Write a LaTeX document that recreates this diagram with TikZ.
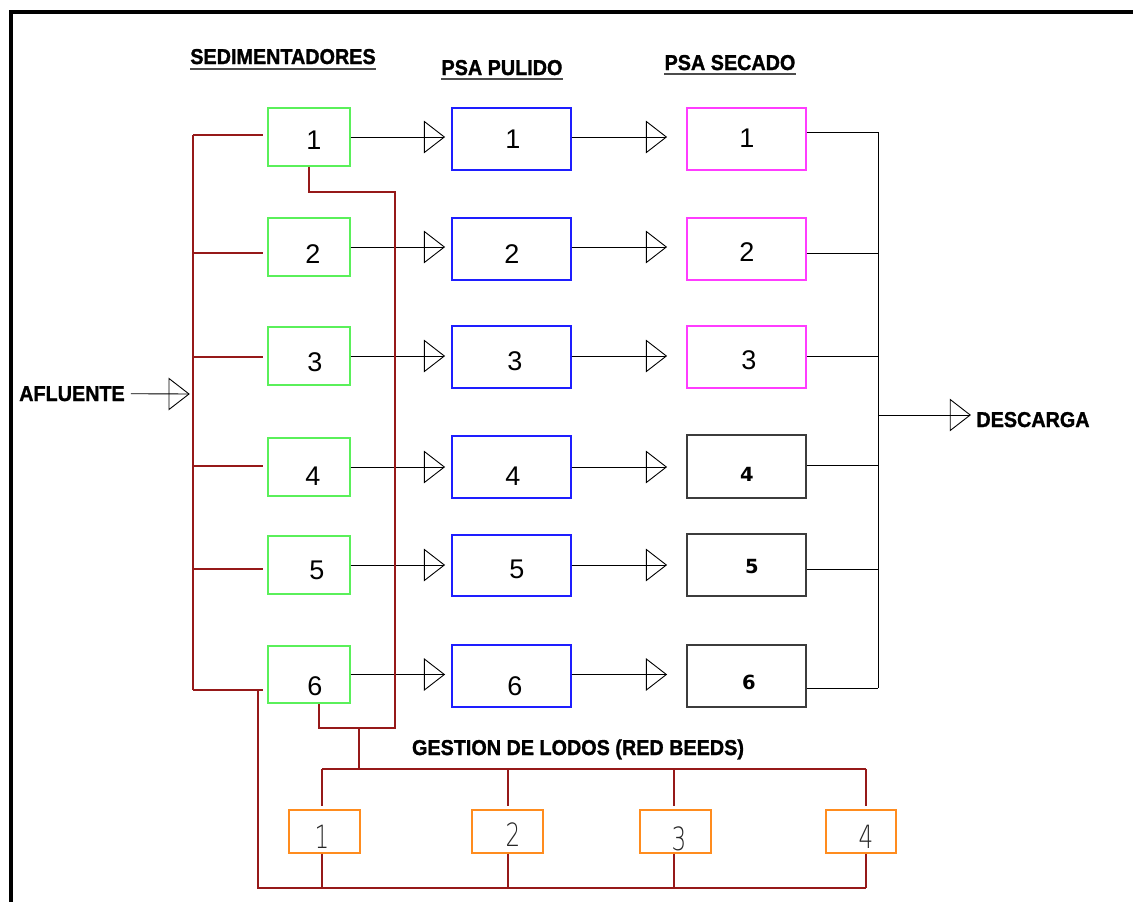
\documentclass[tikz,border=0pt]{standalone}
\usepackage{fontspec}
\setmainfont{Liberation Sans}
\newfontfamily\vfont{DejaVu Sans}
\newfontfamily\heavyfont[FakeBold=1.4]{Liberation Sans Bold}
\IfFontExistsTF{DejaVu Sans ExtraLight}
  {\newfontfamily\thinfont{DejaVu Sans ExtraLight}}
  {\newfontfamily\thinfont{DejaVu Sans}}
\usetikzlibrary{calc}

\definecolor{sedgreen}{RGB}{90,240,90}
\definecolor{pulblue}{RGB}{30,30,255}
\definecolor{secmag}{RGB}{255,60,255}
\definecolor{secgray}{RGB}{60,60,60}
\definecolor{lodorange}{RGB}{255,140,30}
\definecolor{sludge}{RGB}{150,25,25}

% titles: heavy sans, slightly condensed
\newcommand\ttl[1]{\scalebox{0.92}[1]{\heavyfont\fontsize{21.5}{21.5}\selectfont #1}}
% box from its corners: name, style, x1, y1, x2, y2
\newcommand\bx[6]{%
  \node[#2, minimum width={#5pt-#3pt}, minimum height={#6pt-#4pt}]
    (#1) at ({(#3+#5)/2},{(#4+#6)/2}) {};}

\begin{document}
\begin{tikzpicture}[x=1pt,y=-1pt,
  unit/.style={draw, line width=1.3pt, inner sep=0pt},
  sedbox/.style={unit, draw=sedgreen},
  pulbox/.style={unit, draw=pulblue},
  secbox/.style={unit, draw=secmag},
  secdark/.style={unit, draw=secgray},
  lodbox/.style={unit, draw=lodorange},
  dig/.style={inner sep=0pt, font=\fontsize{27}{27}\selectfont},
  bdig/.style={inner sep=0pt, font=\vfont\bfseries\fontsize{19.5}{19.5}\selectfont},
  tdig/.style={inner sep=0pt, text=black!85},
  title/.style={inner sep=0pt, anchor=base},
  flow/.style={draw=black, line width=0.9pt},
  redline/.style={draw=sludge, line width=1.1pt},
  uline/.style={draw=black!70, line width=1.6pt},
  tri/.pic={\draw[line width=0.9pt, line join=miter] (0,0) -- (-20,-15.5) -- (-20,15.5) -- cycle;}
]
\useasboundingbox (0,0) rectangle (1133,902);

% sheet frame
\draw[line width=4pt] (9,12) -- (1133,12);
\draw[line width=4pt] (11,10) -- (11,902);

% column titles
\node[title] (tsed) at (283,64) {\ttl{SEDIMENTADORES}};
\node[title] (tpul) at (502,75) {\ttl{PSA PULIDO}};
\node[title] (tsec) at (730,70) {\ttl{PSA SECADO}};
\draw[uline] ([yshift=-5pt]tsed.base west) -- ([yshift=-5pt]tsed.base east);
\draw[uline] ([yshift=-4pt]tpul.base west) -- ([yshift=-4pt]tpul.base east);
\draw[uline] ([yshift=-4pt]tsec.base west) -- ([yshift=-4pt]tsec.base east);
\node[title] (afl) at (72,401) {\ttl{AFLUENTE}};
\node[title] (dsc) at (1033,427) {\ttl{DESCARGA}};
\node[title] (glod) at (578,755) {\ttl{GESTION DE LODOS (RED BEEDS)}};

% sedimentadores
\bx{s1}{sedbox}{268}{108}{350}{166}
\bx{s2}{sedbox}{268}{218}{350}{276}
\bx{s3}{sedbox}{268}{327}{350}{385}
\bx{s4}{sedbox}{268}{438}{350}{496}
\bx{s5}{sedbox}{268}{536}{350}{594}
\bx{s6}{sedbox}{268}{646}{350}{703}
\node[dig] (s1t) at (314,140) {1};
\node[dig] (s2t) at (313,254) {2};
\node[dig] (s3t) at (315,362) {3};
\node[dig] (s4t) at (313,476) {4};
\node[dig] (s5t) at (317,570) {5};
\node[dig] (s6t) at (315,686) {6};

% PSA pulido
\bx{p1}{pulbox}{452}{108}{571}{170}
\bx{p2}{pulbox}{452}{218}{571}{280}
\bx{p3}{pulbox}{452}{326}{571}{388}
\bx{p4}{pulbox}{452}{436}{571}{498}
\bx{p5}{pulbox}{452}{535}{571}{596}
\bx{p6}{pulbox}{452}{645}{571}{707}
\node[dig] (p1t) at (513,139) {1};
\node[dig] (p2t) at (512,254) {2};
\node[dig] (p3t) at (515,361) {3};
\node[dig] (p4t) at (513,476) {4};
\node[dig] (p5t) at (517,569) {5};
\node[dig] (p6t) at (515,686) {6};

% PSA secado
\bx{d1}{secbox}{687}{108}{806}{170}
\bx{d2}{secbox}{687}{218}{806}{280}
\bx{d3}{secbox}{687}{326}{806}{388}
\bx{d4}{secdark}{687}{435}{806}{498}
\bx{d5}{secdark}{687}{534}{806}{596}
\bx{d6}{secdark}{687}{645}{806}{707}
\node[dig] (d1t) at (747,138) {1};
\node[dig] (d2t) at (747,252) {2};
\node[dig] (d3t) at (749,360) {3};
\node[bdig] (d4t) at (747,474) {4};
\node[bdig] (d5t) at (752,567) {5};
\node[bdig] (d6t) at (749,682) {6};

% sludge handling units
\bx{g1}{lodbox}{289}{810}{360}{853}
\bx{g2}{lodbox}{472}{810}{543}{853}
\bx{g3}{lodbox}{640}{810}{711}{853}
\bx{g4}{lodbox}{826}{810}{896}{853}
\node[tdig] (g1t) at (322,837) {\scalebox{0.72}[1]{\thinfont\fontsize{32}{32}\selectfont 1}};
\node[tdig] (g2t) at (513,835) {\scalebox{0.72}[1]{\thinfont\fontsize{32}{32}\selectfont 2}};
\node[tdig] (g3t) at (679,839) {\scalebox{0.72}[1]{\thinfont\fontsize{32}{32}\selectfont 3}};
\node[tdig] (g4t) at (866,837) {\scalebox{0.72}[1]{\thinfont\fontsize{32}{32}\selectfont 4}};

% process flow, sedimentador -> pulido -> secado
\foreach \i in {1,...,6}{
  \draw[flow] (s\i.east) -- ($(s\i.east -| p\i.west)+(-7,0)$) pic{tri};
  \draw[flow] (s\i.east -| p\i.east) -- ($(s\i.east -| d\i.west)+(-20,0)$) pic{tri};
}

% effluent collector
\coordinate (o1) at (878,132);
\coordinate (o2) at (878,253);
\coordinate (o3) at (878,356);
\coordinate (o4) at (878,465);
\coordinate (o5) at (878,569);
\coordinate (o6) at (878,688);
\coordinate (oc) at (878,415);
\foreach \i in {1,...,6}{
  \draw[flow] (o\i -| d\i.east) -- (o\i);
}
\draw[flow] (o1) -- (o6);
\draw[flow] (oc) -- ($(oc -| dsc.west)+(-6,0)$) pic{tri};

% influent distribution
\coordinate (r1) at (193,135);
\coordinate (r2) at (193,253);
\coordinate (r3) at (193,357);
\coordinate (r4) at (193,466);
\coordinate (r5) at (193,569);
\coordinate (r6) at (193,690);
\coordinate (ra) at (193,394);
\draw[flow] ($(afl.east)+(6,0)$) -- ($(ra)+(-4,0)$) pic{tri};
\draw[redline] (r1) -- (r6);
\foreach \i in {1,...,6}{
  \draw[redline] (r\i) -- ($(r\i -| s\i.west)+(-4,0)$);
}

% sludge lines from the settlers
\coordinate (sv) at (395,192);
\coordinate (sj) at (395,728);
\coordinate (s6b) at ($(s6.south)+(10,0)$);
\coordinate (sm) at (359,728);
\coordinate (gm) at (359,769);
\draw[redline] (s1.south) |- (sv) -- (sj) -| (s6b);
\draw[redline] (sm) -- (gm);

% distribution to the sludge units
\coordinate (k1) at (322,769);
\coordinate (k2) at (508,769);
\coordinate (k3) at (674,769);
\coordinate (k4) at (866,769);
\coordinate (m1) at (322,888);
\coordinate (m2) at (508,888);
\coordinate (m3) at (674,888);
\coordinate (m4) at (866,888);
\draw[redline] (k1) -- (k4);
\foreach \i in {1,...,4}{
  \draw[redline] (k\i) -- ($(k\i |- g\i.north)+(0,-3)$);
  \draw[redline] (g\i.south -| k\i) -- (m\i);
}

% return line back to the settler 6 branch
\coordinate (b0) at (258,690);
\coordinate (b1) at (258,888);
\draw[redline] (b0) -- (b1) -- (m4);
\end{tikzpicture}
\end{document}
